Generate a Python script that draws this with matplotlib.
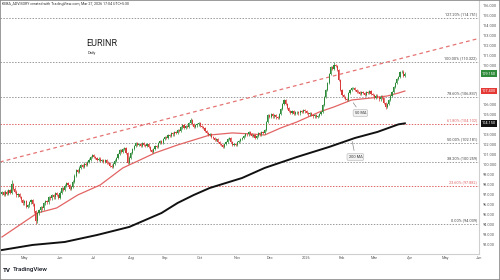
import numpy as np
import pandas as pd
import matplotlib
matplotlib.use('Agg')
import matplotlib.pyplot as plt
import matplotlib.transforms as mtransforms
from matplotlib.patches import Rectangle

plt.rcParams['font.family'] = ['Roboto', 'DejaVu Sans']

# daily closes, EURINR, Apr 2025 -> Mar 27 2026
closes = [
    97.25, 96.95, 97.30, 97.10, 97.45, 97.20, 98.05, 97.60, 97.30, 96.90,
    97.05, 96.75, 96.40, 96.10, 96.30, 95.75, 95.90, 96.20, 96.45, 96.00,
    95.30, 94.30, 95.10, 95.40, 95.75, 95.60, 96.10, 96.35, 96.20, 96.75,
    96.60, 96.90, 96.70, 97.15, 96.95, 96.65, 97.20, 97.66, 97.50, 97.90,
    98.16, 97.95, 97.60, 97.76, 98.30, 98.90, 99.47, 99.30, 99.70, 99.97,
    99.80, 100.10, 99.95, 100.27, 100.50, 100.80, 100.97, 100.75, 100.67, 100.50,
    100.60, 100.35, 100.47, 100.30, 100.45, 100.20, 100.17, 99.90, 99.77, 100.10,
    100.40, 100.67, 101.10, 101.48, 101.30, 101.55, 101.68, 101.20, 100.17, 100.70,
    101.18, 101.60, 101.90, 102.18, 101.95, 102.10, 101.90, 102.18, 102.00, 101.85,
    102.05, 101.78, 101.50, 101.28, 101.60, 101.85, 101.75, 102.18, 102.35, 102.20,
    102.55, 102.78, 102.65, 102.95, 102.85, 103.19, 103.05, 103.30, 103.20, 103.49,
    103.40, 103.75, 103.99, 103.70, 103.90, 103.79, 104.20, 104.50, 104.10, 103.79,
    103.95, 104.05, 104.19, 103.90, 103.80, 103.69, 103.40, 103.20, 102.98, 103.10,
    102.80, 102.68, 102.50, 102.60, 102.28, 102.10, 101.95, 101.78, 102.05, 102.30,
    102.55, 102.68, 102.30, 101.98, 102.10, 101.95, 102.28, 102.40, 102.55, 102.68,
    102.90, 103.10, 103.05, 103.29, 103.10, 102.85, 102.95, 102.68, 102.90, 103.19,
    103.05, 103.30, 103.20, 103.49, 104.30, 104.99, 104.80, 105.05, 104.85, 104.99,
    104.75, 104.69, 105.10, 105.60, 106.10, 106.50, 106.10, 105.70, 105.40, 105.20,
    105.35, 105.10, 105.25, 105.30, 105.15, 105.40, 105.30, 105.50, 105.35, 105.20,
    105.05, 105.15, 104.99, 104.85, 104.95, 104.79, 104.90, 105.10, 105.30, 106.00,
    106.80, 107.50, 108.21, 109.10, 109.82, 109.60, 110.02, 109.90, 109.52, 108.51,
    107.51, 107.00, 106.80, 106.60, 106.50, 107.20, 107.51, 107.70, 107.71, 107.50,
    107.35, 107.31, 107.10, 107.30, 107.21, 107.05, 107.30, 107.21, 107.40, 107.10,
    107.00, 106.75, 106.95, 106.80, 106.55, 106.85, 106.70, 106.20, 105.80, 106.10,
    106.50, 106.90, 107.31, 107.80, 108.21, 108.60, 108.81, 109.30, 109.35, 108.90,
    109.15,
]
first_open = 97.10
last_date = '2026-03-27'
spike_highs = {6: 98.46, 117: 104.69, 206: 110.32}
spike_lows = {21: 94.04, 238: 105.55}

# moving averages (bar index, value)
ma50_bars = [0, 22, 34, 47, 61, 75, 83, 95, 109, 123, 129, 143, 155, 163,
             173, 183, 197, 206, 217, 229, 239, 246, 250]
ma50_vals = [92.73, 95.14, 95.65, 96.95, 97.96, 99.67, 100.27, 101.18, 101.98,
             102.68, 102.98, 103.19, 103.08, 102.98, 103.69, 104.29, 105.30,
             105.80, 106.50, 106.70, 106.90, 107.20, 107.40]
ma200_bars = [0, 19, 39, 59, 79, 89, 99, 109, 119, 129, 139, 149, 163, 183,
              203, 219, 233, 246, 250]
ma200_vals = [91.42, 91.93, 92.23, 92.93, 93.74, 94.44, 95.14, 96.15, 96.95,
              97.66, 98.16, 98.66, 99.67, 100.77, 101.78, 102.68, 103.29,
              104.05, 104.15]

fib_ratios = ['127.20%', '100.00%', '78.60%', '61.80%', '50.00%', '38.20%', '23.60%', '0.00%']
fib_prices = [114.751, 110.322, 106.837, 104.102, 102.181, 100.259, 97.882, 94.039]
fib_red = ['61.80%', '23.60%']

trend_bars = [0, 250]
trend_vals = [100.32, 110.77]

y_ticks = list(range(92, 117))

GREEN = '#2e8b3a'
RED = '#d93a3a'

dates = pd.bdate_range(end=last_date, periods=len(closes))
n = len(closes)
idx = np.arange(n)
c = np.array(closes)
o = np.array([first_open] + closes[:-1])
hi = np.maximum(o, c) + 0.12
lo = np.minimum(o, c) - 0.12
for k, v in spike_highs.items():
    hi[k] = v
for k, v in spike_lows.items():
    lo[k] = v
up = c >= o
cols = np.where(up, GREEN, RED)

fig = plt.figure(figsize=(5, 2.8), dpi=100, facecolor='white')
ax = fig.add_axes([0, 1 - 254 / 280, 479 / 500, 254 / 280])
ax.set_xlim(-1.2, 286.7)
ax.set_ylim(91.02, 116.55)

# fib levels
blend = mtransforms.blended_transform_factory(ax.transAxes, ax.transData)
for r, p in zip(fib_ratios, fib_prices):
    col = '#e06666' if r in fib_red else '#9a9a9a'
    ax.axhline(p, color=col, lw=0.7, ls=(0, (1.5, 1.5)), zorder=1)
    ax.text(0.996, p + 0.15, f'{r} ({p:.3f})', transform=blend, ha='right',
            va='bottom', fontsize=2.8, color=col if r in fib_red else '#444444')

# trend line
ax.axline((trend_bars[0], trend_vals[0]), (trend_bars[1], trend_vals[1]),
          color='#e57373', lw=0.9, ls=(0, (3, 2.5)), zorder=2)

# MAs
ax.plot(ma50_bars, ma50_vals, color='#e36464', lw=0.9, zorder=3)
ax.plot(ma200_bars, ma200_vals, color='#111111', lw=1.4, zorder=3)

# candles
ax.vlines(idx, lo, hi, colors=cols, lw=0.5, zorder=4)
body = np.maximum(np.abs(c - o), 0.04)
ax.bar(idx, body, bottom=np.minimum(o, c), width=0.7, color=cols,
       edgecolor='none', zorder=5)

# MA labels
box = dict(boxstyle='round,pad=0.4', fc='#f2f2f2', ec='#b5b5b5', lw=0.4)
ax.annotate('50 MA', xy=(217, 106.45), xytext=(222.4, 105.19), fontsize=2.8,
            ha='center', va='center', color='#333333', bbox=box,
            arrowprops=dict(arrowstyle='-', color='#888888', lw=0.5), zorder=6)
ax.annotate('200 MA', xy=(217, 102.6), xytext=(219.3, 100.77), fontsize=2.8,
            ha='center', va='center', color='#333333', bbox=box,
            arrowprops=dict(arrowstyle='-', color='#888888', lw=0.5), zorder=6)

# axes styling
for s in ['top', 'left']:
    ax.spines[s].set_visible(False)
for s in ['bottom', 'right']:
    ax.spines[s].set_color('#cfcfcf')
    ax.spines[s].set_linewidth(0.8)

# price boxes on the axis hide the scale labels right under them
box_vals = [(c[-1], GREEN), (ma50_vals[-1], '#e53935'), (ma200_vals[-1], '#111111')]
shown = [t for t in y_ticks if all(abs(t - v) > 0.6 for v, _ in box_vals)]
ax.yaxis.tick_right()
ax.set_yticks(shown)
ax.set_yticklabels([f'{t:.3f}' for t in shown])
ax.tick_params(axis='y', length=0, pad=2.5, labelsize=2.8, labelcolor='#555555')

future = pd.bdate_range(start=dates[-1] + pd.offsets.BDay(1), periods=50)
all_dates = dates.append(future)
tick_pos, tick_lab = [], []
for i in range(1, len(all_dates)):
    if all_dates[i].month != all_dates[i - 1].month:
        tick_pos.append(i)
        tick_lab.append('2026' if all_dates[i].month == 1 else all_dates[i].strftime('%b'))
ax.set_xticks(tick_pos)
ax.set_xticklabels(tick_lab)
ax.tick_params(axis='x', length=0, pad=1.5, labelsize=2.8, labelcolor='#555555')

for val, fc in box_vals:
    ax.text(1.006, val, f'{val:.3f}', transform=blend, ha='left', va='center',
            fontsize=2.8, color='white', clip_on=False, zorder=7,
            bbox=dict(boxstyle='square,pad=0.3', fc=fc, ec='none'))

# header / title / logo
fig.text(0.004, 0.992, 'KEBA_ADVISORY created with TradingView.com, Mar 27, 2026 17:04 UTC+5:30',
         fontsize=2.6, va='top', color='#333333')
fig.text(86 / 500, 1 - 44 / 280, 'EURINR', fontsize=6.5, va='center', color='#222222')
fig.text(88 / 500, 1 - 53 / 280, 'Daily', fontsize=2.8, va='center', color='#333333')
fig.text(3 / 500, 1 - 270 / 280, 'TV', fontsize=4.5, fontweight='bold', va='center', color='#131722')
fig.text(13 / 500, 1 - 270 / 280, 'TradingView', fontsize=4.5, fontweight='medium',
         va='center', color='#131722')

fig.add_artist(Rectangle((0, 0), 1, 1, transform=fig.transFigure, fill=False,
                         ec='#8a8a8a', lw=1.2))

fig.savefig('out.png', dpi=100)
